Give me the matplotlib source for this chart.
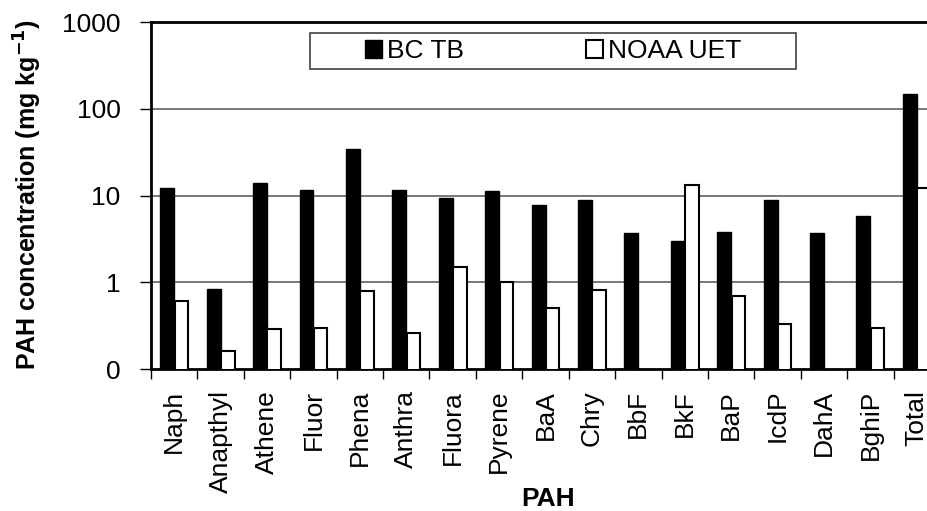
import numpy as np
import matplotlib.pyplot as plt
from matplotlib.patches import Patch, Rectangle

plt.rcParams['font.family'] = ['Liberation Sans', 'DejaVu Sans']

pahs = ['Naph', 'Anapthyl', 'Athene', 'Fluor', 'Phena', 'Anthra', 'Fluora',
        'Pyrene', 'BaA', 'Chry', 'BbF', 'BkF', 'BaP', 'IcdP', 'DahA', 'BghiP',
        'Total']
bc_tb = [12.3, 0.83, 14.1, 11.7, 34.7, 11.7, 9.3, 11.3, 7.7, 8.9, 3.7, 3.0,
         3.8, 8.9, 3.7, 5.8, 147]
# no NOAA value for BbF and DahA
noaa_uet = [0.61, 0.16, 0.29, 0.30, 0.80, 0.26, 1.49, 1.0, 0.50, 0.81, np.nan,
            13.3, 0.69, 0.33, np.nan, 0.30, 12.1]
y_ticks = [0.1, 1, 10, 100, 1000]
y_labels = ['0', '1', '10', '100', '1000']

fig = plt.figure(figsize=(9.27, 5.11), dpi=100)
ax = fig.add_axes([151 / 927, 1 - 369 / 511, 789 / 927, 347 / 511])

x = np.arange(len(pahs))
ax.set_yscale('log')
ax.bar(x - 0.15, bc_tb, width=0.3, color='black', edgecolor='black',
       linewidth=1, zorder=3)
ax.bar(x + 0.155, noaa_uet, width=0.29, color='white', edgecolor='black',
       linewidth=1.5, zorder=3)

ax.set_ylim(0.1, 1000)
ax.set_xlim(-0.5, len(pahs) - 0.5)

ax.set_yticks(y_ticks)
ax.set_yticklabels(y_labels)
ax.yaxis.set_minor_locator(plt.NullLocator())
ax.tick_params(axis='y', which='major', labelsize=19, length=8, width=1,
               pad=14, direction='out')

# category boundaries get tick marks, names sit in between
ax.set_xticks(np.arange(len(pahs) + 1) - 0.5)
ax.set_xticklabels([])
ax.set_xticks(x, minor=True)
ax.set_xticklabels(pahs, minor=True, rotation=90, fontsize=19)
ax.tick_params(axis='x', which='major', length=7, width=1, direction='out')
ax.tick_params(axis='x', which='minor', length=0, pad=15)
for lab in ax.get_xticklabels(minor=True):
    lab.set_verticalalignment('top')

for v in [1, 10, 100]:
    ax.axhline(v, color='#606060', linewidth=1.2, zorder=1)

ax.spines['right'].set_visible(False)
for side in ['left', 'bottom', 'top']:
    ax.spines[side].set_linewidth(2)

fig.text(28 / 927, 1 - 195 / 511, 'PAH concentration (mg kg$^{\\mathbf{-1}}$)',
         rotation=90, ha='center', va='center', fontsize=18, fontweight='bold')
fig.text(548 / 927, 1 - 499 / 511, 'PAH', ha='center', va='center',
         fontsize=19, fontweight='bold')

# legend box
fig.patches.append(Rectangle((310 / 927, 1 - 69 / 511), 486 / 927, 36 / 511,
                             transform=fig.transFigure, facecolor='white',
                             edgecolor='#404040', linewidth=1.2, zorder=5))
handles = [Patch(facecolor='black', edgecolor='black', label='BC TB'),
           Patch(facecolor='white', edgecolor='black', linewidth=1.5,
                 label='NOAA UET')]
leg = fig.legend(handles=handles, loc='center', ncol=2, frameon=False,
                 bbox_to_anchor=(553 / 927, 1 - 51 / 511), fontsize=19,
                 handlelength=0.65, handleheight=0.65, handletextpad=0.2,
                 columnspacing=4.6, borderpad=0)
leg.set_zorder(6)

fig.savefig('out.png', dpi=100)
